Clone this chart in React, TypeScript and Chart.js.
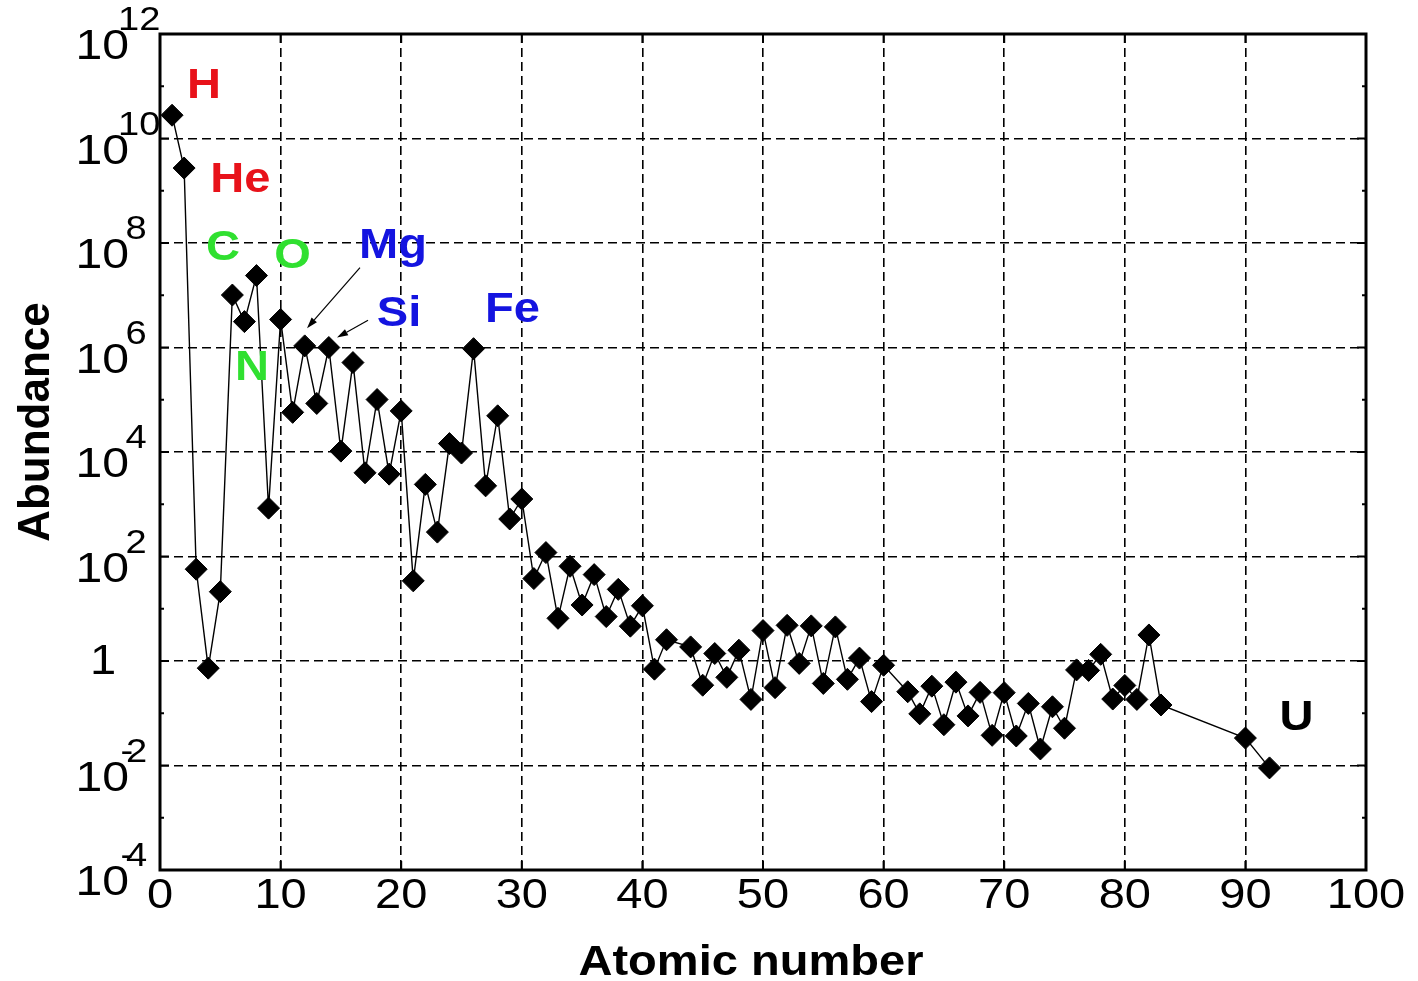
import { useEffect, useRef } from 'react';
import { Chart, registerables } from 'chart.js';

Chart.register(...registerables);

// ---------- data ----------
const atomicNumber = [
  1, 2, 3, 4, 5, 6, 7, 8, 9, 10,
  11, 12, 13, 14, 15, 16, 17, 18, 19, 20,
  21, 22, 23, 24, 25, 26, 27, 28, 29, 30,
  31, 32, 33, 34, 35, 36, 37, 38, 39, 40,
  41, 42, 44, 45, 46, 47, 48, 49, 50,
  51, 52, 53, 54, 55, 56, 57, 58, 59, 60,
  62, 63, 64, 65, 66, 67, 68, 69, 70,
  71, 72, 73, 74, 75, 76, 77, 78, 79, 80,
  81, 82, 83, 90, 92,
];

const abundance = [
  2.79e10, 2.72e9, 57.1, 0.73, 21.2, 1.01e7, 3.13e6, 2.38e7, 843, 3.44e6,
  5.74e4, 1.074e6, 8.49e4, 1.0e6, 1.04e4, 5.15e5, 4000, 1.01e5, 3770, 6.11e4,
  34.2, 2400, 293, 1.45e4, 9550, 9.5e5, 2250, 4.93e4, 522, 1260,
  37.8, 119, 6.56, 65, 11.8, 45, 7.09, 23.5, 4.64, 11.4,
  0.698, 2.55, 1.86, 0.344, 1.39, 0.486, 1.61, 0.184, 3.82,
  0.309, 4.81, 0.9, 4.7, 0.372, 4.49, 0.446, 1.136, 0.167, 0.828,
  0.258, 0.0973, 0.33, 0.0603, 0.394, 0.0889, 0.251, 0.0378, 0.248,
  0.0367, 0.154, 0.0207, 0.133, 0.0517, 0.675, 0.661, 1.34, 0.187, 0.34,
  0.184, 3.15, 0.144, 0.0335, 0.009,
];

const xTickValues = [0, 10, 20, 30, 40, 50, 60, 70, 80, 90, 100];
const yTickExponents = [-4, -2, 0, 2, 4, 6, 8, 10, 12];
const xTitle = 'Atomic number';
const yTitle = 'Abundance';

const RED = '#e8121a';
const GREEN = '#30e030';
const BLUE = '#1414e0';

const elementLabels = [
  { text: 'H', z: 3.65, value: 10 ** 10.78, color: RED },
  { text: 'He', z: 6.67, value: 10 ** 8.97, color: RED },
  { text: 'C', z: 5.22, value: 10 ** 7.67, color: GREEN },
  { text: 'O', z: 10.99, value: 10 ** 7.53, color: GREEN },
  { text: 'N', z: 7.63, value: 10 ** 5.37, color: GREEN },
  { text: 'Mg', z: 19.32, value: 10 ** 7.72, color: BLUE },
  { text: 'Si', z: 19.82, value: 10 ** 6.42, color: BLUE },
  { text: 'Fe', z: 29.23, value: 10 ** 6.48, color: BLUE },
  { text: 'U', z: 94.24, value: 10 ** -1.32, color: '#000000' },
];

const arrows = [
  { fromZ: 16.58, fromV: 10 ** 7.53, toZ: 12.19, toV: 10 ** 6.37 },
  { fromZ: 17.25, fromV: 10 ** 6.52, toZ: 14.68, toV: 10 ** 6.19 },
];

// ---------- drawing helpers ----------
const FONT = '"Liberation Sans", Arial, Helvetica, sans-serif';
const SX = 1.12;

function stretchedText(ctx: CanvasRenderingContext2D, text: string, x: number, y: number, align: CanvasTextAlign) {
  ctx.save();
  ctx.translate(x, y);
  ctx.scale(SX, 1);
  ctx.textAlign = align;
  ctx.fillText(text, 0, 0);
  ctx.restore();
}

const decorPlugin = {
  id: 'decor',
  afterDraw(chart: any) {
    const { ctx, chartArea: a } = chart;
    const xs = chart.scales.x;
    const ys = chart.scales.y;
    ctx.save();
    ctx.setLineDash([]);
    ctx.strokeStyle = '#000';
    ctx.fillStyle = '#000';
    ctx.textBaseline = 'alphabetic';

    // frame
    ctx.lineWidth = 3;
    ctx.strokeRect(a.left, a.top, a.right - a.left, a.bottom - a.top);

    // inner ticks
    ctx.lineWidth = 2;
    ctx.beginPath();
    xTickValues.forEach((v) => {
      const px = xs.getPixelForValue(v);
      ctx.moveTo(px, a.bottom);
      ctx.lineTo(px, a.bottom - 9);
      ctx.moveTo(px, a.top);
      ctx.lineTo(px, a.top + 9);
    });
    const eMin = Math.round(Math.log10(ys.min));
    const eMax = Math.round(Math.log10(ys.max));
    for (let e = eMin; e <= eMax; e++) {
      const py = ys.getPixelForValue(10 ** e);
      const len = e % 2 === 0 ? 9 : 4;
      ctx.moveTo(a.left, py);
      ctx.lineTo(a.left + len, py);
      ctx.moveTo(a.right, py);
      ctx.lineTo(a.right - len, py);
    }
    ctx.stroke();

    // x tick labels
    ctx.font = `42px ${FONT}`;
    xTickValues.forEach((v) => {
      stretchedText(ctx, String(v), xs.getPixelForValue(v), a.bottom + 38, 'center');
    });

    // y tick labels (10^n)
    yTickExponents.forEach((e) => {
      const py = ys.getPixelForValue(10 ** e);
      if (e === 0) {
        ctx.font = `42px ${FONT}`;
        stretchedText(ctx, '1', 103, py + 13, 'center');
        return;
      }
      ctx.font = `43px ${FONT}`;
      stretchedText(ctx, '10', 129, py + 25, 'right');
      ctx.font = `34px ${FONT}`;
      const sup = String(Math.abs(e));
      if (e < 0) {
        stretchedText(ctx, '-', 120.5, py - 4, 'left');
        stretchedText(ctx, sup, 126, py - 4, 'left');
      } else if (sup.length > 1) {
        stretchedText(ctx, sup, 118, py - 4, 'left');
      } else {
        stretchedText(ctx, sup, 125.5, py - 4, 'left');
      }
    });

    // axis titles
    ctx.font = `bold 42px ${FONT}`;
    stretchedText(ctx, xTitle, a.left + (a.right - a.left) * 0.49, 975, 'center');
    ctx.save();
    ctx.translate(49, (a.top + a.bottom) / 2 - 30);
    ctx.rotate(-Math.PI / 2);
    ctx.font = `bold 44px ${FONT}`;
    ctx.textAlign = 'center';
    ctx.fillText(yTitle, 0, 0);
    ctx.restore();

    // element labels
    ctx.font = `bold 42px ${FONT}`;
    elementLabels.forEach((l) => {
      ctx.fillStyle = l.color;
      stretchedText(ctx, l.text, xs.getPixelForValue(l.z), ys.getPixelForValue(l.value), 'center');
    });

    // arrows
    ctx.fillStyle = '#000';
    ctx.strokeStyle = '#000';
    ctx.lineWidth = 1.2;
    arrows.forEach((ar) => {
      const x1 = xs.getPixelForValue(ar.fromZ);
      const y1 = ys.getPixelForValue(ar.fromV);
      const x2 = xs.getPixelForValue(ar.toZ);
      const y2 = ys.getPixelForValue(ar.toV);
      const ang = Math.atan2(y2 - y1, x2 - x1);
      const hl = 11;
      const hw = 3.5;
      const bx = x2 - hl * Math.cos(ang);
      const by = y2 - hl * Math.sin(ang);
      ctx.beginPath();
      ctx.moveTo(x1, y1);
      ctx.lineTo(bx, by);
      ctx.stroke();
      ctx.beginPath();
      ctx.moveTo(x2, y2);
      ctx.lineTo(bx + hw * Math.sin(ang), by - hw * Math.cos(ang));
      ctx.lineTo(bx - hw * Math.sin(ang), by + hw * Math.cos(ang));
      ctx.closePath();
      ctx.fill();
    });

    ctx.restore();
  },
};

export default function App() {
  const canvasRef = useRef<HTMLCanvasElement | null>(null);

  useEffect(() => {
    const canvas = canvasRef.current;
    if (!canvas) return;
    const points = atomicNumber.map((z, i) => ({ x: z, y: abundance[i] }));
    const gridCommon = {
      color: '#000000',
      lineWidth: 1.6,
      drawTicks: false,
    };
    const chart = new Chart(canvas, {
      type: 'line',
      data: {
        datasets: [
          {
            label: 'Abundance',
            data: points,
            borderColor: '#000000',
            borderWidth: 1.4,
            backgroundColor: '#000000',
            pointStyle: 'rectRot',
            pointRadius: 11,
            pointBorderWidth: 1,
            pointBackgroundColor: '#000000',
            pointBorderColor: '#000000',
            tension: 0,
            fill: false,
          },
        ],
      },
      options: {
        responsive: false,
        animation: false,
        events: [],
        layout: { padding: { left: 0, right: 52, top: 34, bottom: 0 } },
        plugins: {
          legend: { display: false },
          tooltip: { enabled: false },
        },
        scales: {
          x: {
            type: 'linear',
            min: 0,
            max: 100,
            afterBuildTicks: (s: any) => {
              s.ticks = xTickValues.map((v) => ({ value: v }));
            },
            afterFit: (s: any) => {
              s.height = 111;
              s.paddingLeft = 0;
              s.paddingRight = 0;
            },
            ticks: { display: false },
            grid: gridCommon,
            border: { display: false, dash: [9, 5] },
          },
          y: {
            type: 'logarithmic',
            min: 1e-4,
            max: 1e12,
            afterBuildTicks: (s: any) => {
              s.ticks = yTickExponents.map((e) => ({ value: 10 ** e }));
            },
            afterFit: (s: any) => {
              s.width = 160;
              s.paddingTop = 0;
              s.paddingBottom = 0;
            },
            ticks: { display: false },
            grid: gridCommon,
            border: { display: false, dash: [9, 5] },
          },
        },
      } as any,
      plugins: [decorPlugin],
    });
    return () => chart.destroy();
  }, []);

  return (
    <div style={{ position: 'absolute', left: 0, top: 0, width: 1418, height: 981, background: '#fff' }}>
      <canvas ref={canvasRef} width={1418} height={981} style={{ display: 'block' }} />
    </div>
  );
}
